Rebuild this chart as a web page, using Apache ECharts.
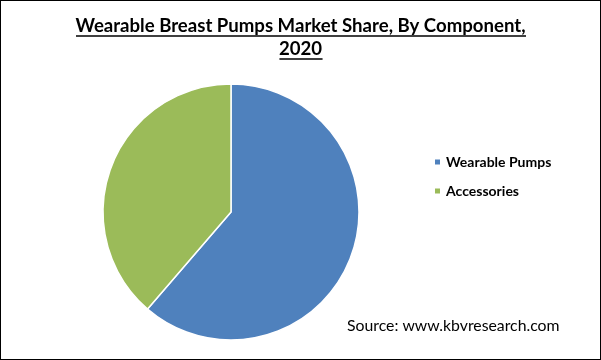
<!DOCTYPE html>
<html><head><meta charset="utf-8">
<script src="https://cdn.jsdelivr.net/npm/echarts@6/dist/echarts.min.js"></script>
<style>html,body{margin:0;padding:0;background:#fff}#c{width:601px;height:360px;box-sizing:border-box;border:1.5px solid #000}</style>
</head><body><div id="c"></div>
<script>
const categories = ['Wearable Pumps', 'Accessories'];
const shares = [61.3, 38.7];
const colors = ['#4F81BD', '#9BBB59'];
const titleLines = ['Wearable Breast Pumps Market Share, By Component,', '2020'];
const sourceText = 'Source: www.kbvresearch.com';

const chart = echarts.init(document.getElementById('c'), null, {renderer: 'canvas'});
const font = 'Lato';
const titleSize = 18.6;
const ctx = document.createElement('canvas').getContext('2d');
ctx.font = 'bold ' + titleSize + 'px ' + font;
const w1 = ctx.measureText(titleLines[0]).width;
const w2 = ctx.measureText(titleLines[1]).width;
const cx = 300;
chart.setOption({
  animation: false,
  graphic: [
    {type: 'text', left: 'center', top: 15, style: {text: titleLines[0], font: 'bold ' + titleSize + 'px ' + font, fill: '#000'}},
    {type: 'text', left: 'center', top: 38, style: {text: titleLines[1], font: 'bold ' + titleSize + 'px ' + font, fill: '#000'}},
    {type: 'line', shape: {x1: cx - w1 / 2, y1: 35, x2: cx + w1 / 2, y2: 35}, style: {stroke: '#000', lineWidth: 1.3}},
    {type: 'line', shape: {x1: cx - w2 / 2, y1: 58, x2: cx + w2 / 2, y2: 58}, style: {stroke: '#000', lineWidth: 1.3}},
    {type: 'text', left: 346, top: 317, style: {text: sourceText, font: '15.8px ' + font, fill: '#000'}}
  ],
  legend: {
    orient: 'vertical', left: 427, top: 149, itemWidth: 7, itemHeight: 7, itemGap: 15, icon: 'rect',
    textStyle: {fontFamily: font, fontWeight: 'bold', fontSize: 14, color: '#000', padding: [0, 0, 0, 0]},
    data: categories
  },
  series: [{
    type: 'pie', center: [230, 211], radius: 128, startAngle: 90, clockwise: true,
    label: {show: false}, labelLine: {show: false}, silent: true,
    itemStyle: {borderColor: '#fff', borderWidth: 1.5},
    data: categories.map((n, i) => ({name: n, value: shares[i], itemStyle: {color: colors[i]}}))
  }]
});
</script></body></html>
